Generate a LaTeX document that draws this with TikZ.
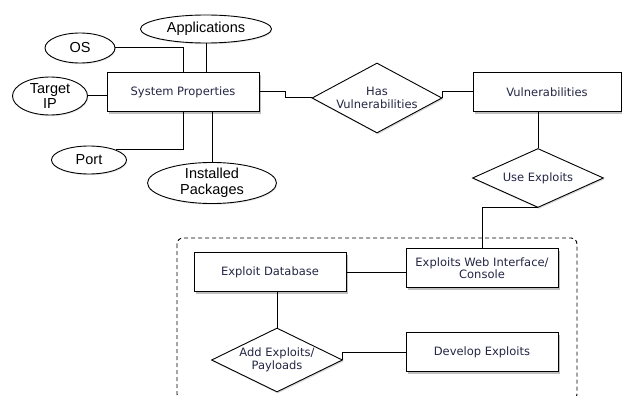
\documentclass[tikz,border=0pt]{standalone}
\usepackage{fontspec}
\newfontfamily\attrfont{Liberation Sans}
\newfontfamily\boxfont{DejaVu Sans}
\usetikzlibrary{shapes.geometric,shadows}
\definecolor{boxtext}{RGB}{36,38,68}

\tikzset{
    ent/.style={draw,fill=white,line width=1pt,minimum width=152pt,minimum height=39pt,
        inner sep=2pt,align=center,text=boxtext,font=\boxfont\fontsize{11.5}{12.5}\selectfont,
        drop shadow={shadow xshift=1.5pt,shadow yshift=-2.5pt,opacity=0.5}},
    attr/.style={draw,ellipse,fill=white,line width=0.9pt,inner sep=0pt,align=center,
        font=\attrfont\fontsize{14.5}{15.5}\selectfont,
        drop shadow={shadow xshift=0.8pt,shadow yshift=-1.2pt,opacity=0.2}},
    rel/.style={draw,diamond,fill=white,line width=0.9pt,inner sep=0pt,aspect=1.86,align=center,
        text=boxtext,font=\boxfont\fontsize{11.5}{12.5}\selectfont,
        drop shadow={shadow xshift=1pt,shadow yshift=-1.5pt,opacity=0.3}},
    link/.style={line width=1pt}
}

\begin{document}
\begin{tikzpicture}[x=1pt,y=-1pt]
            \useasboundingbox (0,0) rectangle (622,396);
            \clip (0,0) rectangle (622,396);

            % Frame round the exploit tools (runs off the bottom)
            \draw[line width=0.9pt,dash pattern=on 4pt off 3pt,rounded corners=6pt] (177,238) rectangle (577,400);

            % Entities
            \node[ent] (sys) at (183,92) {System Properties};
            \node[ent,minimum width=148pt] (vuln) at (547,92) {Vulnerabilities};
            \node[ent] (db) at (270,272) {Exploit Database};
            \node[ent] (web) at (482,268) {Exploits Web Interface/\\Console};
            \node[ent] (dev) at (482,352) {Develop Exploits};

            % Attributes
            \node[attr,minimum width=131pt,minimum height=28pt] (apps) at (206,29) {Applications};
            \node[attr,minimum width=70pt,minimum height=30pt] (os) at (80,48) {OS};
            \node[attr,minimum width=75pt,minimum height=38pt] (tip) at (50,96) {Target\\IP};
            \node[attr,minimum width=75pt,minimum height=28pt] (port) at (89,160) {Port};
            \node[attr,minimum width=129pt,minimum height=37pt] (pkgs) at (212,183) {Installed\\Packages};

            % Relations
            \node[rel,minimum width=130pt,minimum height=70pt] (has) at (377,98) {Has\\Vulnerabilities};
            \node[rel,minimum width=131pt,minimum height=59pt] (use) at (538,178) {Use Exploits};
            \node[rel,minimum width=131pt,minimum height=61pt] (add) at (277,360) {Add Exploits/\\Payloads};

            % Links
            \draw[link] (os.east) -| (sys.north);
            \draw[link] (apps.south) -- (apps.south |- sys.north);
            \draw[link] (tip.east) -- (tip.east -| sys.west);
            \draw[link] (sys.south) |- (port.north east);
            \draw[link] (pkgs.north) -- (pkgs.north |- sys.south);
            \draw[link] (sys.east) -- ([xshift=26pt]sys.east) |- (has.west);
            \draw[link] (has.east) |- (vuln.west);
            \draw[link] (use.north) -- (use.north |- vuln.south);
            \draw[link] (use.south) -| (web.north);
            \draw[link] (db.east) -- (db.east -| web.west);
            \draw[link] (add.north) -- (add.north |- db.south);
            \draw[link] (dev.west) -| (add.east);
        \end{tikzpicture}
\end{document}
